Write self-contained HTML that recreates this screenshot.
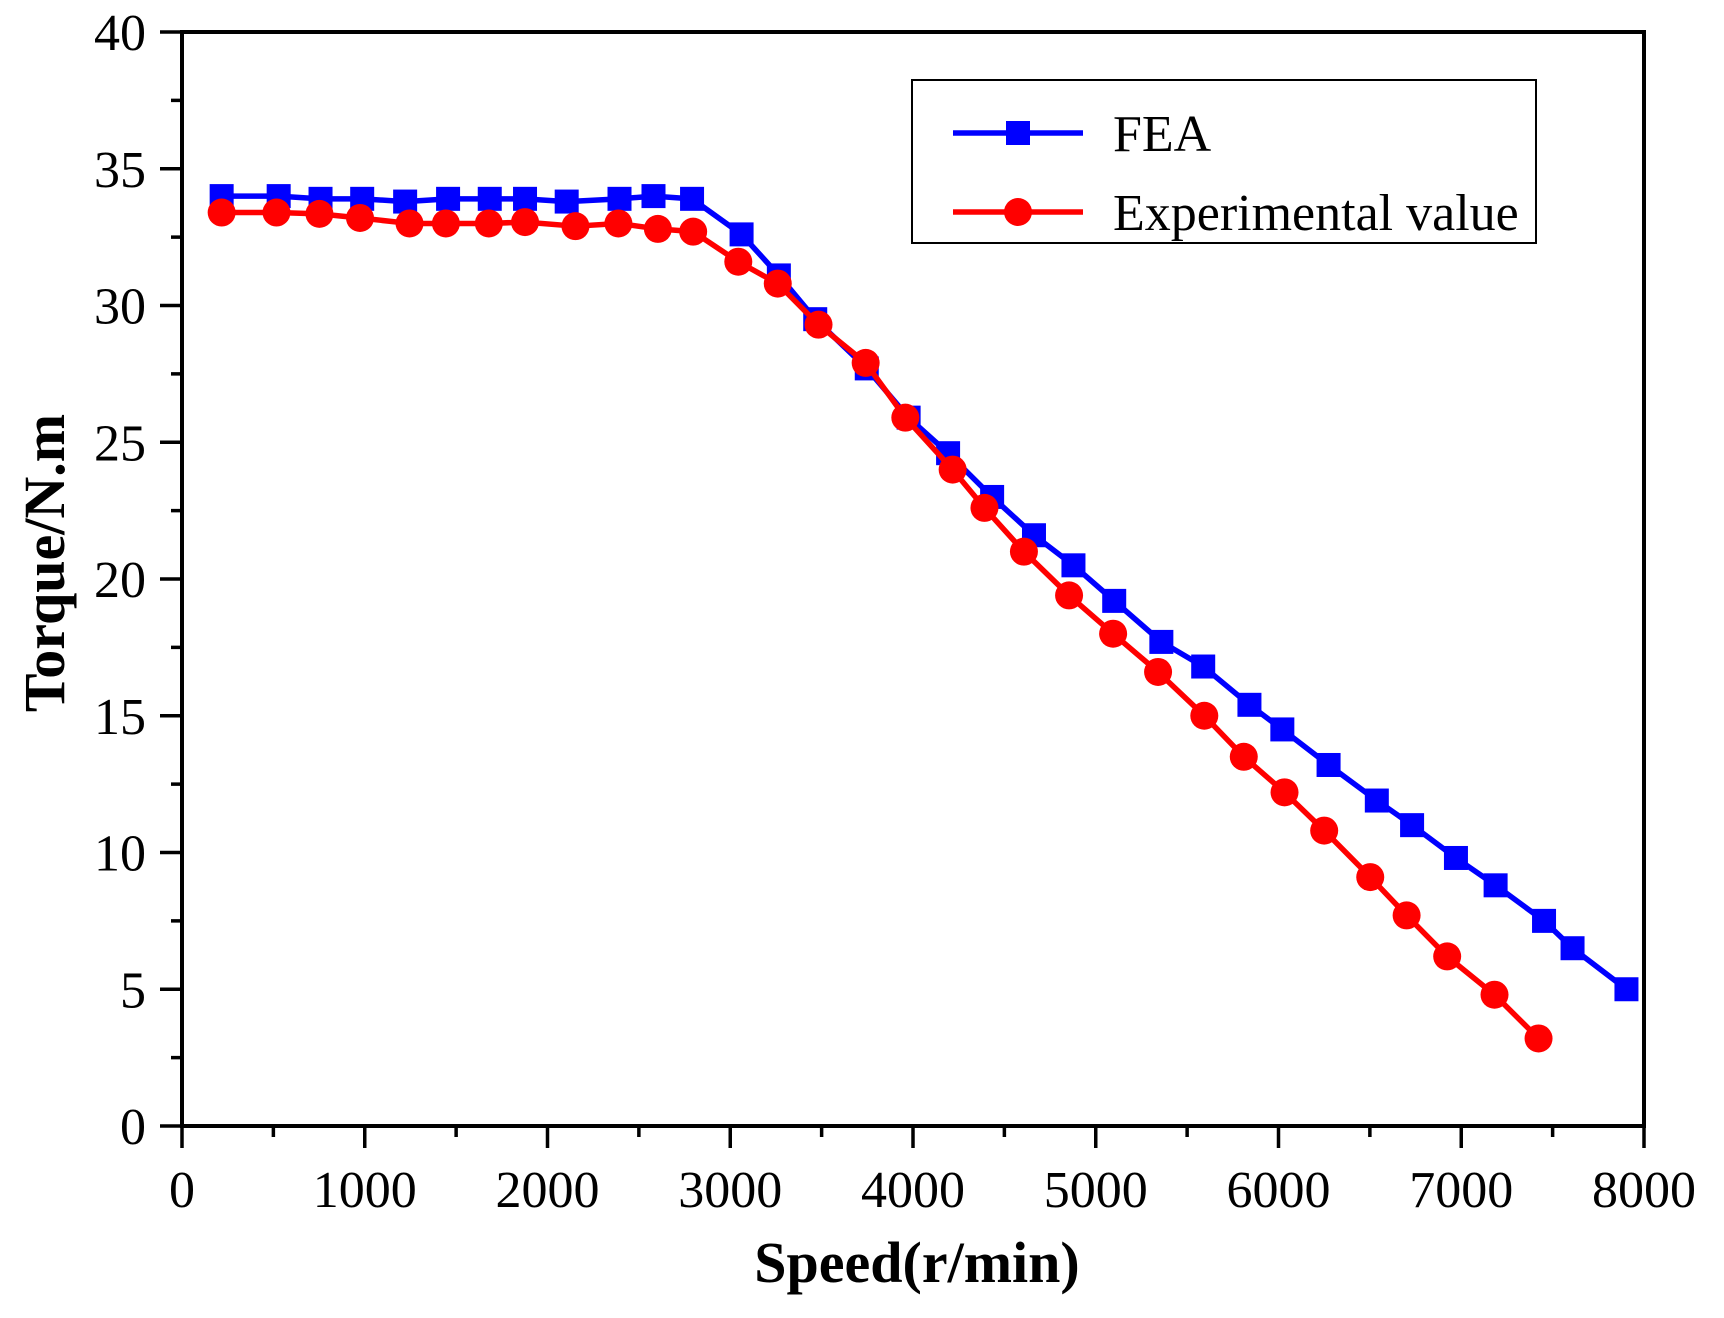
<!DOCTYPE html>
<html><head><meta charset="utf-8"><style>
html,body{margin:0;padding:0;background:#fff;}
svg{display:block;font-family:"Liberation Serif",serif;}
</style></head><body>
<svg id="chart" width="1724" height="1318" viewBox="0 0 1724 1318" xmlns="http://www.w3.org/2000/svg">
<g id="plot"></g>
</svg>
<script>
const xTicks = [0,1000,2000,3000,4000,5000,6000,7000,8000];
const yTicks = [0,5,10,15,20,25,30,35,40];
const feaSpeed = [217,529,758,986,1221,1456,1684,1877,2105,2394,2580,2791,3062,3266,3465,3747,3976,4192,4433,4662,4878,5101,5359,5588,5841,6021,6274,6538,6731,6971,7188,7453,7609,7904];
const feaTorque = [34,34,33.9,33.9,33.8,33.9,33.9,33.9,33.8,33.9,34,33.9,32.6,31.1,29.5,27.7,25.9,24.6,23.0,21.6,20.5,19.2,17.7,16.8,15.4,14.5,13.2,11.9,11.0,9.8,8.8,7.5,6.5,5.0];
const expSpeed = [217,517,752,974,1245,1444,1679,1877,2153,2388,2604,2797,3044,3260,3483,3741,3958,4217,4391,4607,4854,5095,5341,5594,5810,6033,6250,6502,6701,6923,7182,7423];
const expTorque = [33.4,33.4,33.35,33.2,33.0,33.0,33.0,33.05,32.9,33.0,32.8,32.7,31.6,30.8,29.3,27.9,25.9,24.0,22.6,21.0,19.4,18.0,16.6,15.0,13.5,12.2,10.8,9.1,7.7,6.2,4.8,3.2];

const NS="http://www.w3.org/2000/svg";
const L=182,R=1644,T=32,B=1126;
const X=v=>L+(v-0)/(8000-0)*(R-L);
const Y=v=>B-(v-0)/(40-0)*(B-T);
const g=document.getElementById('plot');
function mk(tag,at,parent){const e=document.createElementNS(NS,tag);for(const k in at)e.setAttribute(k,at[k]);(parent||g).appendChild(e);return e;}

let fr=mk('rect',{x:L,y:T,width:R-L,height:B-T,fill:'none',stroke:'#000','stroke-width':4});



for(let v=0;v<=8000;v+=500){
  const major=v%1000===0;
  const t=mk('line',{x1:X(v),x2:X(v),y1:B,y2:B+(major?22:11),stroke:'#000','stroke-width':3.5});
  
  
}
xTicks.forEach(v=>{
  const t=mk('text',{x:X(v),y:1207,'text-anchor':'middle','font-size':52});
  t.textContent=v;
  
  
});
for(let v=0;v<=40;v+=2.5){
  const major=v%5===0;
  const t=mk('line',{x1:L-(major?22:11),x2:L,y1:Y(v),y2:Y(v),stroke:'#000','stroke-width':3.5});
  
  
}
yTicks.forEach(v=>{
  const t=mk('text',{x:146,y:Y(v)+18,'text-anchor':'end','font-size':52});
  t.textContent=v;
  
  
});
let xt=mk('text',{x:917,y:1282,'text-anchor':'middle','font-size':58,'font-weight':'bold'});
xt.textContent='Speed(r/min)';


let yt=mk('text',{x:0,y:0,'text-anchor':'middle','font-size':58,'font-weight':'bold',transform:'translate(64,563) rotate(-90)'});
yt.textContent='Torque/N.m';



function series(xs,ys,color,shape,name){
  const pts=xs.map((x,i)=>X(x)+','+Y(ys[i])).join(' ');
  const pl=mk('polyline',{points:pts,fill:'none',stroke:color,'stroke-width':5.5,'stroke-linejoin':'round'});
  
  
  xs.forEach((x,i)=>{
    let m;
    if(shape==='sq') m=mk('rect',{x:X(x)-12,y:Y(ys[i])-12,width:24,height:24,fill:color});
    else m=mk('circle',{cx:X(x),cy:Y(ys[i]),r:14,fill:color});
    
    
  });
}
series(feaSpeed,feaTorque,'#0000ff','sq','fea');
series(expSpeed,expTorque,'#ff0000','ci','experimental');

const lg=mk('g',{});


mk('rect',{x:912,y:80,width:624,height:163,fill:'#fff',stroke:'#000','stroke-width':2},lg);
function entry(y,color,shape,label,name){
  const e=mk('g',{},lg);
  
  
  mk('line',{x1:953,x2:1083,y1:y,y2:y,stroke:color,'stroke-width':5.5},e);
  if(shape==='sq') mk('rect',{x:1006,y:y-12,width:24,height:24,fill:color},e);
  else mk('circle',{cx:1018,cy:y,r:14,fill:color},e);
  const t=mk('text',{x:1113,y:y+18,'font-size':52},e);
  t.textContent=label;
}
entry(133,'#0000ff','sq','FEA','legend-entry-fea');
entry(212,'#ff0000','ci','Experimental value','legend-entry-experimental');
</script>
</body></html>
